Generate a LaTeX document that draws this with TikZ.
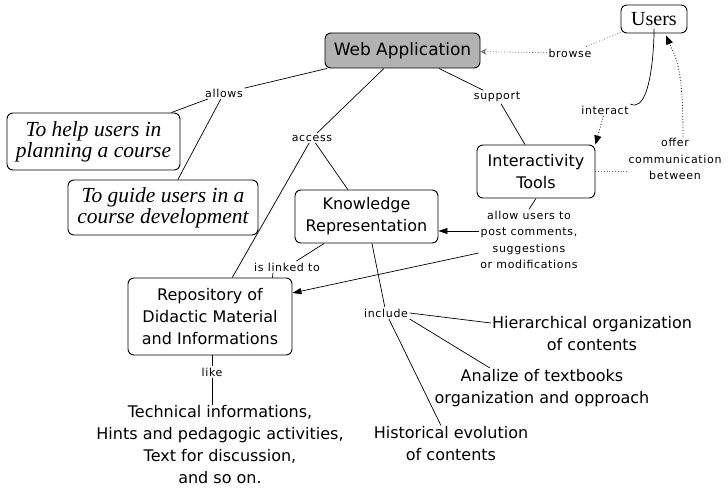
\documentclass[tikz,border=0pt]{standalone}
\usepackage{fontspec}
\setmainfont{DejaVu Sans}
\newfontfamily\seriffont{Liberation Serif}
\newfontfamily\labelfont[LetterSpace=6]{DejaVu Sans}
\usetikzlibrary{arrows.meta,positioning,calc,backgrounds}

\begin{document}
\begin{tikzpicture}[x=1pt,y=1pt,yscale=-1,
  concept/.style={draw,rounded corners=6pt,line width=0.9pt,align=center,inner sep=2pt,font=\fontsize{16}{22}\selectfont},
  ideabox/.style={concept,font=\seriffont\itshape\fontsize{21.5}{21}\selectfont},
  linkword/.style={align=center,inner sep=1.5pt,font=\labelfont\fontsize{11}{16.5}\selectfont},
  freetext/.style={align=center,inner sep=1pt,font=\fontsize{16}{22}\selectfont},
  link/.style={line width=0.7pt},
  dotlink/.style={dotted,line width=0.8pt,black!60}
]
\useasboundingbox (0,0) rectangle (728,489);

% concepts
\node[concept,fill=black!30,font=\fontsize{17}{22}\selectfont,minimum width=155pt,minimum height=35pt] (webapp) at (402.5,50.5) {Web Application};
\node[concept,font=\seriffont\fontsize{20}{22}\selectfont,minimum width=66pt,minimum height=28pt] (users) at (654,19) {Users};
\node[concept,minimum width=118pt,minimum height=53pt] (tools) at (536,171.5) {Interactivity\\Tools};
\node[concept,minimum width=143pt,minimum height=53pt] (knowrep) at (366.5,216.5) {Knowledge\\Representation};
\node[concept,minimum width=164pt,minimum height=77pt] (repo) at (210,316.5) {Repository of\\Didactic Material\\and Informations};
\node[ideabox,minimum width=173pt,minimum height=57pt] (helpgoal) at (93.5,141.5) {To help users in\\planning a course};
\node[ideabox,minimum width=190pt,minimum height=55pt] (guidegoal) at (163,207.5) {To guide users in a\\course development};

% free texts
\node[freetext] (material) at (220,445) {Technical informations,\\Hints and pedagogic activities,\\Text for discussion,\\and so on.};
\node[freetext] (hier) at (592,334) {Hierarchical organization\\of contents};
\node[freetext,fill=white] (analize) at (542,388) {Analize of textbooks\\organization and opproach};
\node[freetext] (hist) at (451,444) {Historical evolution\\of contents};

% link words
\node[linkword] (allows) at (224,93) {allows};
\node[linkword] (access) at (312,138) {access};
\node[linkword] (support) at (497,97) {support};
\node[linkword] (browse) at (570,53) {browse};
\node[linkword] (interact) at (605,110) {interact};
\node[linkword] (offer) at (675,159) {offer\\communication\\between};
\node[linkword] (allowusers) at (529,240) {allow users to\\post comments,\\suggestions\\or modifications};
\node[linkword] (linkedto) at (287,267) {is linked to};
\node[linkword] (include) at (386,313) {include};
\node[linkword] (like) at (212,372) {like};

\begin{scope}[on background layer]
% plain links
\draw[link] (webapp) -- (allows);
\draw[link] (allows) -- (helpgoal);
\draw[link] (allows) -- (guidegoal);
\draw[link] (webapp) -- (access);
\draw[link] (access) -- (repo);
\draw[link] (access) -- (knowrep);
\draw[link] (webapp) -- (support);
\draw[link] (support) -- ($(tools.north)+(-11,0)$);
\draw[link] (users.south) to[out=-90,in=25] (interact.north east);
\draw[link] (tools.south) -- (allowusers.north);
\draw[link] (knowrep) -- (linkedto);
\draw[link] ($(linkedto.south)+(-14,0)$) -- ($(repo.north east)+(-20,0)$);
\draw[link] (knowrep) -- (include);
\draw[link] (include.east) -- ($(hier.west)+(0,-11)$);
\draw[link] (include.south east) -- ($(analize.north)+(-52,0)$);
\draw[link] (include) -- ($(hist.north)+(-10,0)$);
\draw[link] (repo.south -| like) -- (like);
\draw[link] (like) -- (material.north -| like);
% arrows
\draw[link,-{Triangle[length=9pt,width=6pt]}] ($(allowusers.west)+(0,-9)$) -- ($(knowrep.east)+(0,14.5)$);
\draw[link,-{Triangle[length=9pt,width=6pt]}] ($(allowusers.west)+(0,13)$) -- ($(repo.east)+(0,-23.5)$);
% dotted links
\draw[dotlink] (users) -- (browse);
\draw[dotlink,-{Stealth[open,length=6pt,width=6pt]}] (browse) -- (webapp);
\draw[dotlink,-{Triangle[length=9pt,width=7pt]},black] (interact) -- (tools.north east);
\draw[dotlink] (tools.east) -- (offer.west |- tools.east);
\draw[dotlink,-{Triangle[length=9pt,width=7pt]},black] ($(offer.north)+(8,0)$) .. controls ($(offer.north)+(8,-70)$) and ($(users.south)+(22,25)$) .. ($(users.south)+(12,2)$);
\end{scope}

\end{tikzpicture}
\end{document}
